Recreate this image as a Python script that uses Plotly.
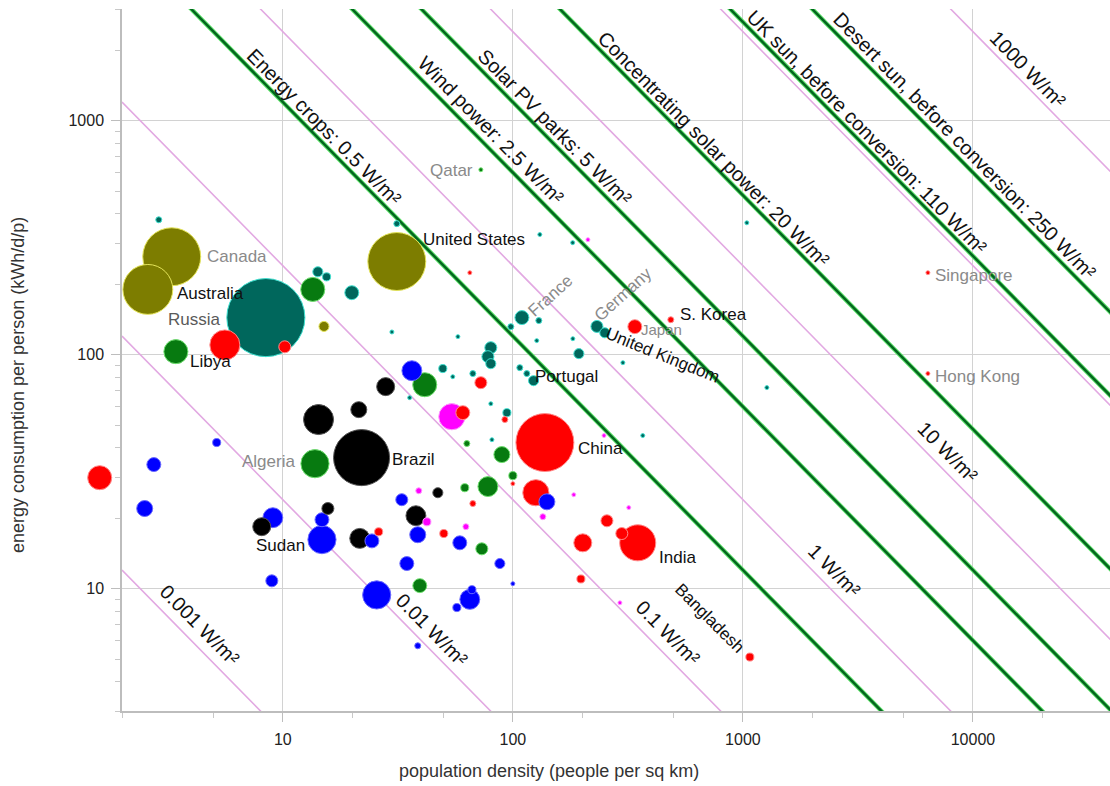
import numpy as np
import plotly.graph_objects as go

# ---------------- country data ----------------
# density: people per sq km, energy: kWh/d per person, area: million sq km
olive_density = [3.29, 2.59, 31.3, 15.1]
olive_energy = [262, 190, 250, 132]
olive_area = [9.3, 6.9, 9.3, 0.28]

teal_density = [8.44, 109.5, 232, 251, 123, 2.89, 14.2, 15.5, 19.95, 29.8, 35.6, 31.3,
                129.7, 98, 127, 57.7, 80.2, 77.9, 80.2, 49.6, 54.8, 67, 107.2, 115,
                193.6, 182.3, 300.8, 80.2, 94.2, 81.1, 1271, 367, 1040, 131, 182]
teal_energy = [144, 144, 132, 124, 77.4, 377, 226, 215, 184, 125, 65.5, 363,
               139.8, 131.7, 114.8, 119.4, 107.1, 98, 91.5, 87.2, 80.5, 83, 88, 83,
               101, 117, 92.4, 61.7, 56.5, 43.3, 72.3, 45.1, 366, 326, 301]
teal_area = [16.9, 0.54, 0.40, 0.28, 0.28, 0.1, 0.28, 0.18, 0.54, 0.044, 0.044, 0.1,
             0.1, 0.1, 0.044, 0.044, 0.4, 0.4, 0.28, 0.18, 0.044, 0.1, 0.1, 0.1,
             0.28, 0.044, 0.044, 0.044, 0.18, 0.044, 0.044, 0.044, 0.044, 0.044, 0.044]

green_density = [3.43, 13.8, 72.6, 13.5, 41.4, 89.6, 77.9, 100, 61.8, 73.3, 39.4, 63.1]
green_energy = [103, 34.2, 617, 190, 74.4, 37.4, 27.3, 30.4, 27, 14.8, 10.3, 41.7]
green_area = [1.6, 2.2, 0.044, 1.6, 1.6, 0.71, 1.1, 0.18, 0.18, 0.4, 0.54, 0.1]

blue_density = [14.8, 5.16, 2.75, 2.51, 9.05, 14.8, 36.4, 32.9, 38.6, 24.4, 8.96,
                25.6, 34.6, 38.6, 58.8, 87.8, 65, 66.4, 57.1, 140.6, 100]
blue_energy = [16.2, 42.1, 33.9, 22, 20.1, 19.7, 85.4, 24, 17, 16, 10.8,
               9.4, 12.8, 5.7, 15.7, 12.8, 9.0, 9.9, 8.3, 23.5, 10.5]
blue_area = [2.2, 0.18, 0.54, 0.71, 1.1, 0.54, 1.1, 0.4, 0.71, 0.54, 0.4,
             2.2, 0.54, 0.1, 0.54, 0.28, 1.1, 0.18, 0.18, 0.71, 0.044]

black_density = [22.0, 14.3, 21.4, 28, 8.1, 15.7, 21.6, 37.9, 47.2]
black_energy = [36.3, 52.8, 58.2, 73, 18.4, 22, 16.4, 20.5, 25.7]
black_area = [8.7, 2.5, 0.71, 0.9, 0.9, 0.4, 1.1, 1.1, 0.28]

red_density = [137.8, 349, 339, 486, 1072, 6370, 6370, 1.6, 5.6, 10.2, 125.9, 297.6,
               201.4, 256.4, 72.6, 60.6, 92.3, 197.6, 26.1, 50.1, 67, 100, 65]
red_energy = [42.1, 15.7, 131.7, 141, 5.1, 224, 83, 29.8, 110, 108, 25.7, 17.2,
              15.7, 19.5, 75.9, 56.5, 52.8, 11.0, 17.5, 17.2, 23.1, 28.1, 224]
red_area = [9.3, 3.6, 0.54, 0.1, 0.18, 0.044, 0.044, 1.6, 2.5, 0.4, 1.9, 0.4,
            0.9, 0.4, 0.4, 0.54, 0.1, 0.18, 0.18, 0.18, 0.1, 0.044, 0.044]

magenta_density = [54.3, 39, 42.3, 62.5, 184, 135, 249, 319, 292, 212]
magenta_energy = [54.3, 26.2, 19.3, 18.4, 25.2, 20.3, 45.1, 22.2, 8.7, 310]
magenta_area = [1.9, 0.1, 0.18, 0.1, 0.044, 0.1, 0.044, 0.044, 0.044, 0.044]

# ---------------- power-per-area reference lines (W/m^2) ----------------
pink_levels = [0.001, 0.01, 0.1, 1, 10, 100, 1000]
green_levels = [0.5, 2.5, 5, 20, 110, 250]
green_names = ["Energy crops", "Wind power", "Solar PV parks",
               "Concentrating solar power", "UK sun, before conversion",
               "Desert sun, before conversion"]

KWH_PER_DAY_KM2_TO_W_M2 = 1.0 / 24000.0   # 1 kWh/d per person at 1 person/km2

X_MIN, X_MAX = 2.0, 10 ** 4.5957
Y_MIN, Y_MAX = 3.0, 3000.0
LX = (np.log10(X_MIN), np.log10(X_MAX))
LY = (np.log10(Y_MIN), np.log10(Y_MAX))


def energy_on_line(power, density):
    return power / (np.asarray(density, dtype=float) * KWH_PER_DAY_KM2_TO_W_M2)


groups = [
    (olive_density, olive_energy, olive_area, "#7d7d00", "#e4e45a"),
    (teal_density, teal_energy, teal_area, "#00675c", "#3fe0d0"),
    (green_density, green_energy, green_area, "#077a10", "#6fe06f"),
    (blue_density, blue_energy, blue_area, "#0000ff", "#6a6aff"),
    (black_density, black_energy, black_area, "#000000", "#555555"),
    (red_density, red_energy, red_area, "#ff0000", "#ff8a8a"),
    (magenta_density, magenta_energy, magenta_area, "#ff00ff", "#ff9aff"),
]

FONT = "Liberation Sans, Arial, Helvetica, sans-serif"
fig = go.Figure()

xs = np.logspace(LX[0], np.log10(60000), 400)

for p in pink_levels:
    fig.add_trace(go.Scatter(x=xs, y=energy_on_line(p, xs), mode="lines",
                             line=dict(color="#e2a9e2", width=1.6),
                             hoverinfo="skip", showlegend=False))
for p in green_levels:
    fig.add_trace(go.Scatter(x=xs, y=energy_on_line(p, xs), mode="lines",
                             line=dict(color="#5fe36c", width=4.4),
                             hoverinfo="skip", showlegend=False))
    fig.add_trace(go.Scatter(x=xs, y=energy_on_line(p, xs), mode="lines",
                             line=dict(color="#04671f", width=2.5),
                             hoverinfo="skip", showlegend=False))


def bubble_diameter(area):
    return 19.0 * np.sqrt(area)


# all bubbles in one layer, largest first so small ones stay visible
bx, by, bs, bc, bl = [], [], [], [], []
outside = []
for dens, en, ar, col, edge in groups:
    for d, e, a in zip(dens, en, ar):
        if d < X_MIN:
            outside.append((d, e, a, col, edge))
            continue
        bx.append(d); by.append(e); bs.append(a); bc.append(col); bl.append(edge)
order = np.argsort(-np.asarray(bs), kind="stable")
fig.add_trace(go.Scatter(
    x=[bx[i] for i in order], y=[by[i] for i in order], mode="markers",
    marker=dict(size=[bubble_diameter(bs[i]) for i in order], sizemode="diameter",
                color=[bc[i] for i in order],
                line=dict(color=[bl[i] for i in order], width=1), opacity=1),
    hoverinfo="skip", showlegend=False))

shapes = []
# countries left of the axis start are drawn in the margin
for d, e, a, col, edge in outside:
    r = bubble_diameter(a) / 2
    px = (np.log10(d) - LX[0]) / (LX[1] - LX[0])
    py = (np.log10(e) - LY[0]) / (LY[1] - LY[0])
    shapes.append(dict(type="circle", xref="paper", yref="paper",
                       xsizemode="pixel", ysizemode="pixel", xanchor=px, yanchor=py,
                       x0=-r, x1=r, y0=-r, y1=r, fillcolor=col,
                       line=dict(color=edge, width=1), layer="above"))

annotations = []

# labels along the reference lines: (text, power, anchor density, offset px)
line_labels = [
    ("0.001 W/m²", 0.001, 3.86, 12),
    ("0.01 W/m²", 0.01, 40.0, 11),
    ("0.1 W/m²", 0.1, 419, 12),
    ("1 W/m²", 1, 2249, 11),
    ("10 W/m²", 10, 6966, 11),
    ("1000 W/m²", 1000, 15780, 9),
]
green_anchor = [13.9, 72.6, 139.5, 687, 3192, 8433]
green_offset = [8.5, 10, 8.5, 8.5, 8, 9]
for name, p, d0, s in zip(green_names, green_levels, green_anchor, green_offset):
    line_labels.append((f"{name}: {p:g} W/m²", p, d0, s))

for text, p, d0, s in line_labels:
    annotations.append(dict(x=np.log10(d0), y=np.log10(float(energy_on_line(p, d0))),
                            xref="x", yref="y", text=text, showarrow=False,
                            textangle=45.5, xshift=s, yshift=s,
                            xanchor="center", yanchor="middle",
                            font=dict(family=FONT, size=20, color="#111111")))

GRAY = "#8a8a8a"
DARK = "#111111"
country_labels = [
    # text, density, energy, dx, dy, color, angle, anchor, size
    ("Canada", olive_density[0], olive_energy[0], 33, 0, GRAY, 0, "left", 17),
    ("Australia", olive_density[1], olive_energy[1], 27, -4, DARK, 0, "left", 17),
    ("United States", olive_density[2], olive_energy[2], 24, 22, DARK, 0, "left", 17),
    ("Russia", teal_density[0], teal_energy[0], -43, -2, "#5a5a5a", 0, "right", 17),
    ("Libya", green_density[0], green_energy[0], 12, -10, DARK, 0, "left", 17),
    ("Algeria", green_density[1], green_energy[1], -18, 2, GRAY, 0, "right", 17),
    ("Qatar", green_density[2], green_energy[2], -6, -1, GRAY, 0, "right", 17),
    ("Brazil", black_density[0], black_energy[0], 28, -2, DARK, 0, "left", 17),
    ("Sudan", blue_density[0], blue_energy[0], -15, -6, DARK, 0, "right", 17),
    ("France", teal_density[1], teal_energy[1], 29, 22, GRAY, -42, "center", 17),
    ("Germany", teal_density[2], teal_energy[2], 26, 32, GRAY, -42, "center", 17),
    ("United Kingdom", teal_density[3], teal_energy[3], 58, -23, DARK, 22, "center", 17),
    ("Portugal", teal_density[4], teal_energy[4], -1, 4, DARK, 0, "left", 17),
    ("China", red_density[0], red_energy[0], 31, -6, DARK, 0, "left", 17),
    ("India", red_density[1], red_energy[1], 19, -15, DARK, 0, "left", 17),
    ("Japan", red_density[2], red_energy[2], 4, -3, GRAY, 0, "left", 15),
    ("S. Korea", red_density[3], red_energy[3], 7, 5, DARK, 0, "left", 17),
    ("Bangladesh", red_density[4], red_energy[4], -40, 39, DARK, 45, "center", 17),
    ("Singapore", red_density[5], red_energy[5], 5, -3, GRAY, 0, "left", 17),
    ("Hong Kong", red_density[6], red_energy[6], 5, -3, GRAY, 0, "left", 17),
]
for text, d, e, dx, dy, col, ang, anc, fs in country_labels:
    annotations.append(dict(x=np.log10(d), y=np.log10(e), xref="x", yref="y",
                            text=text, showarrow=False, textangle=ang,
                            xshift=dx, yshift=dy, xanchor=anc, yanchor="middle",
                            font=dict(family=FONT, size=fs, color=col)))

# axis titles
annotations.append(dict(x=(549 - 122) / 988.0, y=-(771 - 711) / 702.0,
                        xref="x domain", yref="y domain",
                        text="population density (people per sq km)", showarrow=False,
                        xanchor="center", yanchor="middle",
                        font=dict(family=FONT, size=18, color="#333333")))
annotations.append(dict(x=-(122 - 18) / 988.0, y=(711 - 385) / 702.0,
                        xref="x domain", yref="y domain", textangle=-90,
                        text="energy consumption per person (kWh/d/p)", showarrow=False,
                        xanchor="center", yanchor="middle",
                        font=dict(family=FONT, size=18, color="#333333")))

# short leader strokes from labels to bubbles (pixel offsets)
leaders = [
    (olive_density[1], olive_energy[1], -14, -12, 1, 0, "#3a8a70"),
    (green_density[0], green_energy[0], -31, -20, -13, -8, "#3a9d90"),
    (green_density[1], green_energy[1], -25, -12, -13, -7, "#3a9d90"),
    (blue_density[0], blue_energy[0], -35, -20, -19, -12, "#3a9d90"),
    (olive_density[2], olive_energy[2], -15, -5, 0, 0, "#3a8a30"),
    (teal_density[4], teal_energy[4], -7, 3, -13, -34, "#3a9d90"),
    (teal_density[3], teal_energy[3], 64, 0, 54, -59, "#3a9d90"),
    (red_density[1], red_energy[1], -28, -27, -15, -15, "#3a9d90"),
    (red_density[4], red_energy[4], -5, -3, -32, -33, "#3a9d90"),
]
for d, e, x0, y0, x1, y1, col in leaders:
    shapes.append(dict(type="line", xref="x", yref="y", xsizemode="pixel",
                       ysizemode="pixel", xanchor=np.log10(d), yanchor=np.log10(e),
                       x0=x0, y0=y0, x1=x1, y1=y1, line=dict(color=col, width=1.6),
                       layer="above"))

# outline of the zoomed region
shapes.append(dict(type="rect", xref="x", yref="y", x0=np.log10(2.16), x1=np.log10(1310),
                   y0=np.log10(3.63), y1=np.log10(415), line=dict(color="#cfcfcf", width=1.5),
                   layer="below"))

axis_common = dict(type="log", showline=True, linecolor="#bdbdbd", linewidth=1.5,
                   ticks="outside", ticklen=9, tickcolor="#bdbdbd", tickwidth=1.3,
                   showgrid=True, gridcolor="#d2d2d2", gridwidth=1.4, zeroline=False,
                   ticklabelstandoff=4,
                   tickfont=dict(family=FONT, size=16, color="#222222"))

fig.update_layout(
    width=1110, height=786,
    margin=dict(l=122, r=0, t=9, b=75),
    paper_bgcolor="white", plot_bgcolor="white",
    showlegend=False,
    annotations=annotations,
    shapes=shapes,
    xaxis=dict(range=list(LX), tickvals=[10, 100, 1000, 10000],
               ticktext=["10", "100", "1000", "10000"],
               minor=dict(ticks="outside", ticklen=5, tickcolor="#c8c8c8",
                          dtick="D2", showgrid=False),
               **axis_common),
    yaxis=dict(range=list(LY), tickvals=[10, 100, 1000],
               ticktext=["10", "100", "1000"],
               minor=dict(ticks="outside", ticklen=5, tickcolor="#c8c8c8",
                          dtick="D1", showgrid=False),
               **axis_common),
)

fig.write_html("out.html")
